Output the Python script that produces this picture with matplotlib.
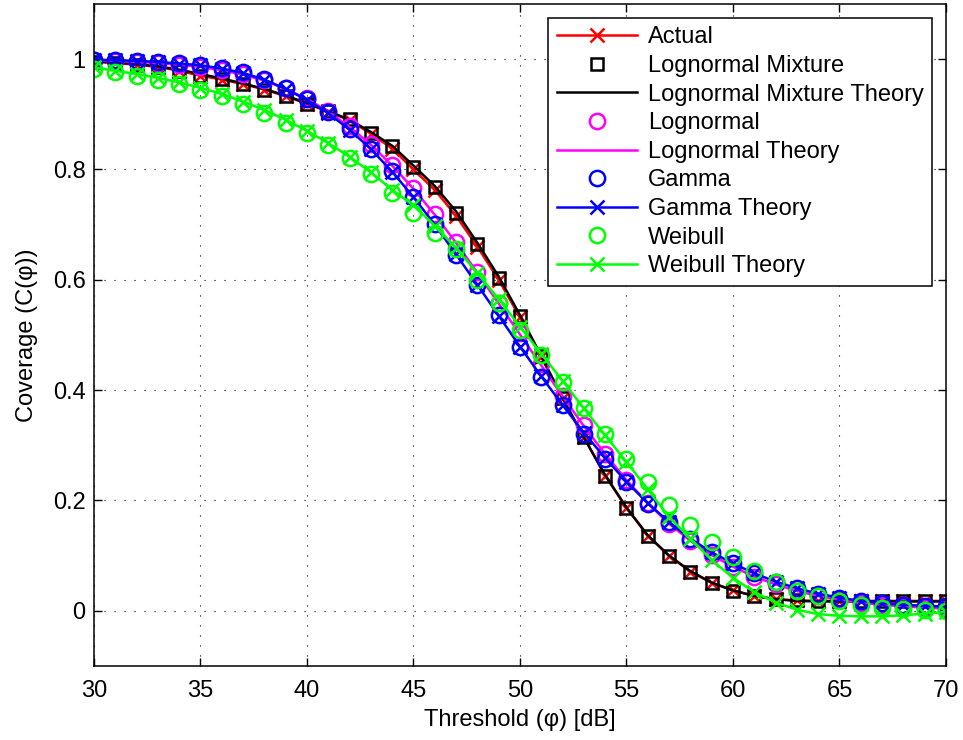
import matplotlib
matplotlib.use('Agg')
import matplotlib.pyplot as plt
import numpy as np

plt.rcParams['font.family'] = ['Liberation Sans', 'DejaVu Sans']
plt.rcParams['font.size'] = 17

# threshold values (dB)
thr = np.arange(30, 71)

actual = [0.995, 0.993, 0.990, 0.986, 0.979, 0.970, 0.963, 0.955, 0.945, 0.933,
          0.919, 0.905, 0.889, 0.865, 0.838, 0.800, 0.763, 0.716, 0.660, 0.600,
          0.532, 0.460, 0.385, 0.315, 0.245, 0.187, 0.136, 0.100, 0.071, 0.051,
          0.037, 0.027, 0.021, 0.019, 0.018, 0.018, 0.018, 0.018, 0.018, 0.018, 0.018]
lnmix = [0.995, 0.993, 0.990, 0.986, 0.979, 0.970, 0.964, 0.955, 0.945, 0.933,
         0.919, 0.906, 0.891, 0.867, 0.842, 0.805, 0.769, 0.722, 0.665, 0.604,
         0.535, 0.462, 0.385, 0.315, 0.245, 0.187, 0.136, 0.100, 0.071, 0.051,
         0.036, 0.027, 0.021, 0.019, 0.018, 0.018, 0.018, 0.018, 0.018, 0.018, 0.018]
lnmix_th = [0.996, 0.994, 0.991, 0.987, 0.981, 0.973, 0.965, 0.956, 0.946, 0.934,
            0.920, 0.906, 0.890, 0.868, 0.843, 0.807, 0.770, 0.724, 0.667, 0.606,
            0.536, 0.462, 0.386, 0.314, 0.246, 0.187, 0.137, 0.100, 0.072, 0.051,
            0.037, 0.027, 0.021, 0.018, 0.017, 0.017, 0.017, 0.017, 0.017, 0.017, 0.017]
lognormal = [0.998, 0.997, 0.995, 0.993, 0.990, 0.986, 0.981, 0.973, 0.962, 0.947,
             0.929, 0.906, 0.878, 0.846, 0.808, 0.767, 0.720, 0.669, 0.615, 0.558,
             0.503, 0.447, 0.390, 0.336, 0.284, 0.237, 0.195, 0.158, 0.127, 0.101,
             0.080, 0.062, 0.048, 0.036, 0.027, 0.020, 0.015, 0.011, 0.008, 0.006, 0.004]
lognormal_th = [0.998, 0.997, 0.995, 0.993, 0.990, 0.986, 0.980, 0.972, 0.961, 0.946,
                0.928, 0.905, 0.877, 0.845, 0.807, 0.765, 0.718, 0.667, 0.613, 0.557,
                0.501, 0.445, 0.389, 0.335, 0.284, 0.237, 0.195, 0.158, 0.127, 0.101,
                0.080, 0.062, 0.048, 0.036, 0.027, 0.020, 0.015, 0.011, 0.008, 0.006, 0.004]
gamma = [0.999, 0.999, 0.997, 0.995, 0.993, 0.990, 0.984, 0.976, 0.964, 0.947,
         0.927, 0.904, 0.873, 0.838, 0.797, 0.751, 0.701, 0.645, 0.591, 0.536,
         0.479, 0.424, 0.373, 0.321, 0.276, 0.233, 0.194, 0.161, 0.131, 0.106,
         0.087, 0.069, 0.053, 0.041, 0.031, 0.024, 0.018, 0.014, 0.011, 0.009, 0.008]
gamma_th = [0.999, 0.998, 0.997, 0.995, 0.992, 0.989, 0.983, 0.975, 0.963, 0.946,
            0.926, 0.902, 0.872, 0.837, 0.796, 0.750, 0.700, 0.646, 0.591, 0.535,
            0.479, 0.425, 0.373, 0.323, 0.277, 0.234, 0.195, 0.161, 0.131, 0.106,
            0.086, 0.068, 0.053, 0.041, 0.031, 0.024, 0.018, 0.014, 0.011, 0.009, 0.008]
weibull = [0.982, 0.976, 0.970, 0.963, 0.955, 0.945, 0.933, 0.918, 0.903, 0.885,
           0.866, 0.845, 0.820, 0.791, 0.758, 0.722, 0.685, 0.655, 0.600, 0.558,
           0.509, 0.464, 0.414, 0.367, 0.321, 0.276, 0.233, 0.191, 0.155, 0.124,
           0.097, 0.073, 0.052, 0.036, 0.027, 0.018, 0.010, 0.006, 0.004, 0.001, 0.000]
weibull_th = [0.985, 0.979, 0.973, 0.966, 0.958, 0.948, 0.937, 0.923, 0.908, 0.890,
              0.870, 0.848, 0.823, 0.795, 0.763, 0.735, 0.698, 0.658, 0.612, 0.565,
              0.515, 0.466, 0.417, 0.367, 0.318, 0.270, 0.220, 0.170, 0.131, 0.092,
              0.060, 0.034, 0.015, 0.002, -0.006, -0.009, -0.010, -0.010, -0.008, -0.005, -0.002]

fig = plt.figure(figsize=(9.63, 7.40), dpi=100)
ax = fig.add_axes([0.0976, 0.1, 0.8847, 0.8946])

lw = 1.8
mk = dict(mew=1.8)
ax.plot(thr, actual, '-x', color='red', lw=lw, ms=9.5, label='Actual', **mk)
ax.plot(thr, lnmix, 's', color='black', mfc='none', ms=9, label='Lognormal Mixture', **mk)
ax.plot(thr, lnmix_th, '-', color='black', lw=lw, label='Lognormal Mixture Theory')
ax.plot(thr, lognormal, 'o', color='magenta', mfc='none', ms=11, label='Lognormal', **mk)
ax.plot(thr, lognormal_th, '-', color='magenta', lw=lw, label='Lognormal Theory')
ax.plot(thr, gamma, 'o', color='blue', mfc='none', ms=11, label='Gamma', **mk)
ax.plot(thr, gamma_th, '-x', color='blue', lw=lw, ms=9.5, label='Gamma Theory', **mk)
ax.plot(thr, weibull, 'o', color='#00ff00', mfc='none', ms=11, label='Weibull', **mk)
ax.plot(thr, weibull_th, '-x', color='#00ff00', lw=lw, ms=9.5, label='Weibull Theory', **mk)

ax.set_xlim(30, 70)
ax.set_ylim(-0.1, 1.1)
ax.set_xticks(np.arange(30, 71, 5))
ax.set_yticks([0, 0.2, 0.4, 0.6, 0.8, 1])
ax.set_yticklabels(['0', '0.2', '0.4', '0.6', '0.8', '1'])
ax.tick_params(direction='in', top=True, right=True, length=6, width=1)
ax.tick_params(axis='x', pad=10)
ax.tick_params(axis='y', pad=6)
for s in ax.spines.values():
    s.set_linewidth(1.1)
ax.grid(True, color='black', linestyle=(0, (1, 8)), linewidth=0.8)

ax.set_xlabel('Threshold (φ) [dB]', labelpad=5)
ax.set_ylabel('Coverage (C(φ))', labelpad=11)

leg = ax.legend(loc='upper right', numpoints=1, fancybox=False, edgecolor='black',
                framealpha=1, handlelength=3.4, handletextpad=0.45, labelspacing=0.28,
                borderaxespad=0.6, borderpad=0.35)
leg.get_frame().set_linewidth(1.1)

fig.savefig('out.png', dpi=100)
